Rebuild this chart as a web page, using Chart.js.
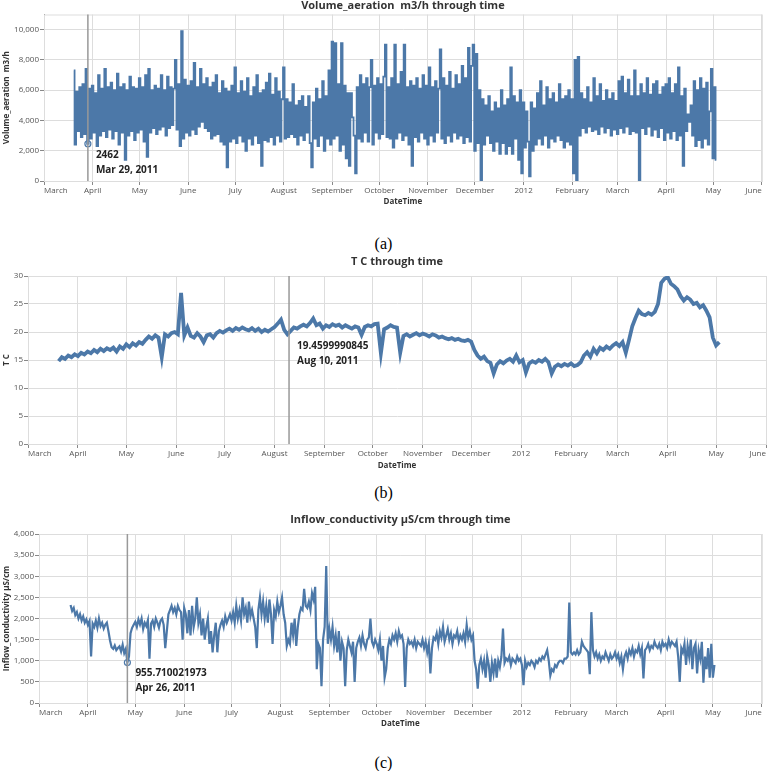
<!DOCTYPE html>
<html>
<head>
<meta charset="utf-8">
<script src="https://cdn.jsdelivr.net/npm/chart.js@4.4.1/dist/chart.umd.min.js"></script>
<style>
  html, body { margin: 0; padding: 0; background: #fff; }
  body { width: 767px; height: 771px; position: relative; overflow: hidden; }
  .panel { position: absolute; left: 0; width: 767px; }
  .caption { position: absolute; left: 0; width: 767px; text-align: center;
             font-family: "Liberation Serif", "DejaVu Serif", serif; font-size: 16px; line-height: 18px; color: #000; }
</style>
</head>
<body>
<div class="panel" style="top:0;height:207px"><canvas id="chartA"></canvas></div>
<div class="caption" style="top:235px">(a)</div>
<div class="panel" style="top:255px;height:216px"><canvas id="chartB"></canvas></div>
<div class="caption" style="top:484px">(b)</div>
<div class="panel" style="top:510px;height:219px"><canvas id="chartC"></canvas></div>
<div class="caption" style="top:754px">(c)</div>

<script>
// x axis: days counted from Mar 1, 2011
const monthDays = [0, 31, 61, 92, 122, 153, 184, 214, 245, 275, 306, 337, 366, 397, 427, 458];
const monthLabels = ['March', 'April', 'May', 'June', 'July', 'August', 'September', 'October',
                     'November', 'December', '2012', 'February', 'March', 'April', 'May', 'June'];

// y ticks per panel
const aerationTicks = [0, 2000, 4000, 6000, 8000, 10000];
const tempTicks = [0, 5, 10, 15, 20, 25, 30];
const condTicks = [0, 500, 1000, 1500, 2000, 2500, 3000, 3500, 4000];

// (a) Volume_aeration m3/h, daily high / low readings alternating, from Mar 20, 2011
const aerationStart = '2011-03-20';
const aerationValues = [
  7300, 2400, 5900, 3300, 6200, 2900, 6400, 3100, 7400, 2462, 6100, 2800, 6300, 3200, 5800, 2300, 7000, 3000, 6100, 3300,
  7400, 2900, 6200, 3400, 6500, 2800, 6000, 3300, 7100, 2400, 6200, 3200, 6400, 1400, 6000, 3000, 6900, 3300, 6200, 2700,
  6100, 3200, 6800, 3400, 6200, 2600, 7000, 1600, 7400, 3200, 6000, 3500, 6300, 3100, 6100, 3400, 7000, 3600, 6000, 3000,
  6900, 3500, 6200, 3700, 6100, 8000, 3400, 6400, 2300, 9900, 2800, 6700, 3200, 6300, 3000, 6600, 3400, 7800, 3100, 6200,
  3600, 7400, 3900, 6400, 3500, 6800, 3300, 6200, 2800, 6500, 3000, 7000, 3100, 5800, 2600, 6600, 2400, 6100, 900, 5900,
  2600, 6300, 2800, 7500, 2500, 5800, 3000, 6600, 2600, 5900, 2000, 6800, 2800, 5600, 2400, 6200, 3000, 7000, 2500, 5800,
  1000, 6000, 2700, 6500, 2600, 7100, 2900, 5700, 2400, 6800, 3000, 5900, 2600, 5400, 7500, 2800, 5400, 2900, 5200, 3100,
  6400, 2900, 5000, 2400, 5300, 3000, 5600, 2700, 4900, 3200, 5600, 2500, 900, 5200, 2800, 6100, 2300, 5400, 3000, 6600,
  2000, 5600, 2800, 7300, 2400, 9200, 2800, 9100, 3000, 6400, 2000, 9100, 2400, 6300, 1500, 5800, 1000, 5800, 4200, 3000,
  500, 6200, 2800, 7000, 2600, 6400, 3200, 6800, 2600, 6200, 8000, 2400, 6300, 3200, 6800, 2800, 6400, 3100, 6900, 9000,
  2900, 6200, 2800, 6800, 2200, 9000, 2800, 6400, 3200, 7200, 2700, 9000, 3000, 6200, 2400, 6600, 1000, 6300, 2900, 6800,
  2600, 6100, 3200, 7000, 2800, 6300, 2400, 7500, 3000, 6200, 2600, 6600, 3200, 6100, 8700, 2800, 6800, 2500, 6300, 3000,
  7200, 2600, 6100, 3200, 7000, 2800, 6400, 3000, 7600, 2500, 6800, 2900, 8800, 2600, 7600, 9000, 2000, 8400, 2500, 6000,
  0, 5400, 2400, 5000, 3000, 5600, 2500, 4600, 2000, 5200, 2600, 4800, 1800, 6000, 2500, 5000, 1800, 5400, 2300, 7500,
  1800, 5600, 2800, 5200, 1400, 6000, 500, 5200, 2200, 4600, 2600, 300, 5200, 2000, 4800, 2400, 5800, 2800, 6600, 2400,
  5000, 3000, 6200, 2200, 5400, 2800, 5800, 2600, 5200, 3000, 6400, 2700, 5400, 2200, 5600, 2600, 6000, 2400, 5400, 500,
  8000, 0, 8200, 3000, 5800, 3500, 5400, 3200, 6200, 3600, 5200, 3300, 6800, 3400, 5600, 3100, 6400, 3600, 5300, 3200,
  6000, 3500, 5400, 3000, 5800, 3400, 5300, 3100, 6600, 3500, 6900, 3200, 5800, 3600, 6700, 3100, 5600, 3300, 7300, 3200,
  5600, 0, 6400, 3500, 5800, 3100, 6800, 3600, 5700, 3000, 6400, 3400, 6600, 2900, 5700, 3500, 6200, 2700, 6400, 3200,
  6800, 2800, 5800, 3300, 6400, 2700, 7500, 3000, 5600, 1000, 6100, 3300, 4400, 3900, 5000, 3000, 6600, 2300, 6000, 2700,
  6800, 2200, 6100, 2800, 6500, 2400, 4600, 7400, 1500, 6200, 1400
];

// (b) T C, one reading every 2 days from Mar 20, 2011
const tempStart = '2011-03-20';
const tempValues = [
  14.8, 15.5, 15.2, 15.8, 15.5, 16.0, 15.7, 16.3, 16.0, 16.5, 16.2, 16.8, 16.4, 17.0, 16.6, 17.1, 16.8, 17.2, 16.5, 17.4,
  17.0, 17.8, 17.3, 18.0, 17.6, 18.2, 17.9, 18.6, 19.2, 18.8, 19.4, 19.0, 15.5, 19.6, 19.2, 19.8, 20.0, 19.6, 27.0, 19.4,
  20.8, 19.3, 19.0, 19.8, 19.2, 18.2, 19.4, 19.6, 19.0, 19.8, 20.2, 19.9, 20.3, 20.6, 20.2, 20.7, 20.4, 20.8, 20.5, 20.3,
  20.7, 20.2, 20.6, 20.0, 20.4, 20.1, 20.5, 20.9, 21.5, 22.2, 20.4, 19.6, 20.2, 20.8, 20.6, 21.0, 21.3, 21.0, 21.6, 22.4,
  21.2, 21.5, 20.6, 21.2, 20.9, 21.4, 21.1, 21.3, 20.8, 21.2, 20.9, 20.6, 21.0, 20.8, 19.5, 20.9, 21.2, 21.0, 21.4, 21.5,
  16.2, 20.5, 20.8, 21.2, 20.9, 20.8, 16.3, 19.3, 19.6, 19.2, 19.5, 19.8, 19.4, 19.7, 19.5, 19.2, 19.6, 19.4, 19.0, 19.2,
  18.9, 18.7, 18.9, 18.6, 18.8, 18.5, 18.4, 18.6, 18.3, 16.8, 15.8, 15.2, 15.6, 14.8, 14.5, 12.6, 14.2, 14.8, 14.4, 14.9,
  15.2, 14.7, 15.8, 14.6, 15.0, 12.8, 14.4, 14.8, 14.5, 15.0, 14.7, 15.2, 14.6, 12.6, 13.8, 14.2, 13.9, 14.3, 14.0, 14.4,
  13.9, 14.1, 14.6, 15.8, 16.4, 15.6, 17.0, 16.2, 17.2, 16.8, 17.4, 17.0, 17.6, 18.0, 17.5, 18.2, 16.3, 18.6, 21.0, 22.5,
  23.8, 23.2, 23.0, 23.4, 23.1, 23.6, 25.0, 28.8, 29.5, 29.8, 28.6, 28.2, 27.6, 26.4, 25.6, 26.2, 25.8, 25.0, 25.2, 24.4,
  24.8, 23.8, 22.6, 19.0, 17.6, 18.2
];

// (c) Inflow_conductivity µS/cm, one reading per day from Mar 21, 2011
const condStart = '2011-03-21';
const condValues = [
  2320, 2180, 2250, 2080, 2150, 2000, 2100, 1950, 2050, 1900, 1980,
  1850, 1940, 1100, 1880, 1800, 1950, 1780, 2000, 1820, 1900,
  1760, 1850, 1900, 1700, 1480, 1320, 1280, 1360, 1250, 1300,
  1340, 1220, 1380, 1180, 1280, 956, 1100, 1650, 1780, 1850,
  1920, 1800, 1980, 1860, 2000, 1750, 1900, 1820, 1960, 1050,
  1880, 1950, 1800, 2000, 1900, 1780, 1950, 2000, 1850, 1300,
  1700, 2100, 2200, 2300, 2150, 2250, 2100, 2300, 2200, 2150,
  1500, 2250, 2100, 1650, 2200, 1600, 2300, 1800, 2000, 2500,
  1900, 2100, 1600, 2000, 1500, 1800, 2000, 1400, 1700, 1200,
  1600, 1900, 1200, 1700, 1850, 1950, 1800, 2050, 1900, 2000,
  2100, 1950, 2150, 1900, 2300, 2000, 2200, 1950, 2500, 2100,
  2250, 1900, 2400, 2050, 2200, 2000, 1800, 1300, 2200, 2500,
  2100, 2400, 2000, 2300, 1900, 2450, 2100, 1400, 2200, 2050,
  2400, 2150, 2300, 2500, 2100, 1900, 1350, 1500, 1400, 1900,
  1600, 2000, 1350, 1800, 2100, 2250, 2200, 2700, 2300, 2250,
  2400, 2200, 2600, 2450, 2750, 800, 1400, 1300, 400, 1500,
  1800, 3240, 1400, 1750, 1500, 1800, 1350, 1600, 1200, 1700,
  1000, 1450, 1300, 400, 1250, 1500, 1350, 1200, 1450, 500,
  1300, 1450, 1550, 1350, 1600, 1400, 1300, 1500, 1550, 2000,
  1450, 1350, 1500, 1400, 1250, 1500, 1000, 1350, 600, 800,
  1300, 1500, 1400, 1600, 1500, 1650, 1450, 1700, 1550, 1600,
  1400, 380, 1300, 1500, 1400, 1450, 1350, 1500, 1300, 1450,
  1400, 1350, 1500, 1300, 1450, 1200, 1400, 700, 1300, 1550,
  1500, 1650, 1400, 1700, 1550, 1800, 1450, 1600, 1750, 1500,
  1650, 1400, 1600, 1550, 1700, 1450, 1600, 1500, 1650, 1450,
  1850, 1550, 1700, 1500, 1600, 1000, 800, 340, 900, 1050,
  800, 1000, 600, 1100, 900, 500, 950, 700, 1050, 600,
  1000, 850, 1100, 1760, 950, 1050, 1000, 1100, 900, 1050,
  1000, 950, 1100, 1000, 1050, 900, 420, 1000, 850, 950,
  900, 1000, 950, 850, 1000, 950, 1050, 1000, 1100, 1050,
  1150, 1250, 1000, 650, 800, 750, 900, 850, 950, 1000,
  1000, 950, 1050, 1050, 1100, 2380, 1200, 1150, 1200, 1150,
  1250, 1150, 1200, 1450, 1350, 1300, 1250, 1200, 680, 2150,
  1250, 1100, 1200, 1050, 1150, 1000, 1100, 1050, 1200, 1100,
  1000, 1150, 1050, 1100, 1200, 1050, 1150, 950, 1100, 800,
  1100, 1200, 1050, 1250, 1150, 1300, 1100, 1250, 1200, 1350,
  1150, 1300, 580, 1250, 1300, 1400, 1250, 1350, 1300, 1450,
  1350, 1300, 1400, 1250, 1450, 1350, 1400, 1300, 1500, 1350,
  1450, 1400, 1350, 1450, 1100, 500, 1300, 1200, 1400, 900,
  1350, 1100, 1500, 800, 1300, 1400, 700, 1250, 1050, 1450,
  480, 1100, 800, 1300, 600, 1400, 600, 900
];

// hover rules shown in each panel
const ruleDates = ['2011-03-29', '2011-08-10', '2011-04-26'];
const ruleValues = [2462, 19.4599990845, 955.710021973];
const ruleDateLabels = ['Mar 29, 2011', 'Aug 10, 2011', 'Apr 26, 2011'];

const BLUE = '#4c78a8';
const FONT = '"Open Sans", "Noto Sans", sans-serif';
Chart.defaults.font.family = FONT;

function dayOf(iso) {
    const [y, m, d] = iso.split('-').map(Number);
    return (Date.UTC(y, m - 1, d) - Date.UTC(2011, 2, 1)) / 86400000;
}

function toPoints(values, startIso, step) {
    const s = dayOf(startIso);
    return values.map((v, i) => ({ x: s + i * step, y: v }));
}

// light frame round the plot area
const framePlugin = {
    id: 'frame',
    beforeDatasetsDraw(chart) {
        const { ctx, chartArea: a } = chart;
        ctx.save();
        ctx.strokeStyle = '#ddd';
        ctx.lineWidth = 1;
        ctx.strokeRect(a.left + 0.5, a.top + 0.5, a.right - a.left, a.bottom - a.top);
        ctx.restore();
    }
};

// vertical rule plus value / date text
const rulePlugin = {
    id: 'rule',
    afterDatasetDraw(chart, args, opts) {
        if (args.index !== 0) return;
        const { ctx, chartArea: a, scales } = chart;
        const x = scales.x.getPixelForValue(dayOf(opts.date));
        ctx.save();
        ctx.strokeStyle = '#999';
        ctx.lineWidth = 1.5;
        ctx.beginPath();
        ctx.moveTo(x, a.top);
        ctx.lineTo(x, a.bottom);
        ctx.stroke();
        ctx.restore();
    },
    afterDatasetsDraw(chart, args, opts) {
        const { ctx, scales } = chart;
        const x = scales.x.getPixelForValue(dayOf(opts.date));
        const y = scales.y.getPixelForValue(opts.value);
        ctx.save();
        ctx.fillStyle = '#222';
        ctx.font = 'bold 10px ' + FONT;
        ctx.textBaseline = 'middle';
        ctx.textAlign = 'left';
        ctx.fillText(String(opts.value), x + 8, y + 11);
        ctx.fillText(opts.label, x + 8, y + 26);
        ctx.restore();
    }
};

function timeChart(canvasId, p) {
    const ctx = document.getElementById(canvasId);
    if (!ctx) return null;

    const datasets = [{
        data: toPoints(p.values, p.start, p.step),
        borderColor: BLUE,
        borderWidth: p.lineWidth,
        stepped: p.stepped || false,
        pointRadius: 0,
        tension: 0,
        fill: false
    }];
    if (p.marker) {
        datasets.push({
            data: [{ x: dayOf(p.rule.date), y: p.rule.value }],
            showLine: false,
            pointRadius: 3,
            pointBackgroundColor: '#fff',
            pointBorderColor: BLUE,
            pointBorderWidth: 1.2
        });
    }

    return new Chart(ctx, {
        type: 'line',
        data: { datasets },
        plugins: [framePlugin, rulePlugin],
        options: {
            responsive: true,
            maintainAspectRatio: false,
            animation: false,
            events: [],
            layout: { padding: 0 },
            plugins: {
                legend: { display: false },
                tooltip: { enabled: false },
                title: {
                    display: true,
                    text: p.title,
                    fullSize: false,
                    color: '#333',
                    font: { size: 11, weight: 'bold', lineHeight: 1 },
                    padding: p.titlePad
                },
                rule: p.rule
            },
            scales: {
                x: {
                    type: 'linear',
                    min: 0,
                    max: 458,
                    afterBuildTicks: (scale) => { scale.ticks = monthDays.map(v => ({ value: v })); },
                    afterFit: (scale) => { scale.height = p.xHeight; },
                    ticks: {
                        callback: (value, index) => monthLabels[index],
                        autoSkip: false,
                        maxRotation: 0,
                        align: 'inner',
                        padding: 1,
                        color: '#555',
                        font: { size: 8 }
                    },
                    grid: { color: '#ddd', tickColor: '#888', tickLength: 4 },
                    border: { color: '#888' },
                    title: {
                        display: true,
                        text: 'DateTime',
                        color: '#333',
                        font: { size: 8, weight: 'bold', lineHeight: 1.2 },
                        padding: { top: 0, bottom: 0 }
                    }
                },
                y: {
                    min: 0,
                    max: p.yMax,
                    afterBuildTicks: (scale) => { scale.ticks = p.yTicks.map(v => ({ value: v })); },
                    afterFit: (scale) => { scale.width = p.yWidth; },
                    ticks: {
                        padding: 1,
                        color: '#555',
                        font: { size: 8 }
                    },
                    grid: { color: '#ddd', tickColor: '#888', tickLength: 4 },
                    border: { color: '#888' },
                    title: {
                        display: true,
                        text: p.yTitle,
                        color: '#333',
                        font: { size: 8, weight: 'bold', lineHeight: 1.2 },
                        padding: { top: 2, bottom: 0 }
                    }
                }
            }
        }
    });
}

timeChart('chartA', {
    title: 'Volume_aeration  m3/h through time',
    yTitle: 'Volume_aeration  m3/h',
    values: aerationValues, start: aerationStart, step: 1, lineWidth: 1.8, stepped: 'middle',
    yMax: 11000, yTicks: aerationTicks, yWidth: 44, xHeight: 26,
    titlePad: { top: 0, bottom: 3.5 },
    marker: true,
    rule: { date: ruleDates[0], value: ruleValues[0], label: ruleDateLabels[0] }
});

timeChart('chartB', {
    title: 'T C through time',
    yTitle: 'T C',
    values: tempValues, start: tempStart, step: 2, lineWidth: 3.8,
    yMax: 30, yTicks: tempTicks, yWidth: 28, xHeight: 27,
    titlePad: { top: 1.8, bottom: 8.2 },
    marker: false,
    rule: { date: ruleDates[1], value: ruleValues[1], label: ruleDateLabels[1] }
});

timeChart('chartC', {
    title: 'Inflow_conductivity µS/cm through time',
    yTitle: 'Inflow_conductivity µS/cm',
    values: condValues, start: condStart, step: 1, lineWidth: 2.2,
    yMax: 4000, yTicks: condTicks, yWidth: 39, xHeight: 26,
    titlePad: { top: 4.8, bottom: 8.2 },
    marker: true,
    rule: { date: ruleDates[2], value: ruleValues[2], label: ruleDateLabels[2] }
});
</script>
</body>
</html>
